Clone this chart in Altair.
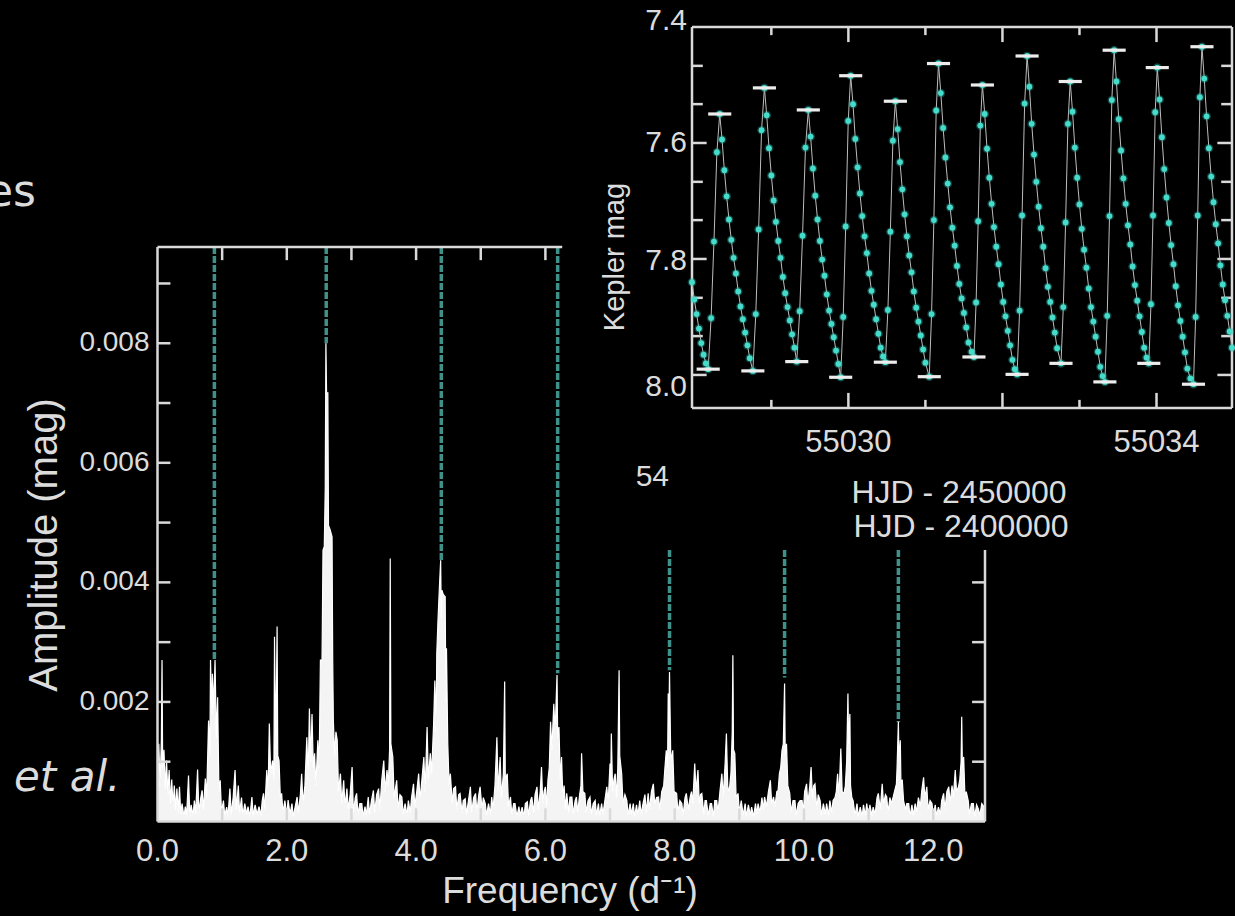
import altair as alt
import pandas as pd

# ---------------- periodogram data (frequency d^-1, amplitude in 0.001 mag) ----------------
SPEC_A = [(0.00,0.35),(0.02,1.30),(0.04,0.60),(0.06,1.36),(0.07,2.70),(0.08,0.90),(0.10,1.20),(0.12,0.55),(0.14,1.02),(0.16,0.45),(0.18,0.86),(0.20,0.30),(0.22,0.70),(0.24,0.25),(0.26,0.60),(0.28,0.20),(0.30,0.55),(0.32,0.15),(0.34,0.58),(0.36,0.12),(0.38,0.30),(0.41,0.08),(0.43,0.25),(0.45,0.10),(0.48,0.77),(0.50,0.08),(0.52,0.28),(0.55,0.10),(0.57,0.35),(0.59,0.12),(0.62,0.87),(0.64,0.15),(0.67,0.40),(0.69,0.52),(0.71,0.20),(0.74,0.72),(0.76,0.40),(0.79,1.69),(0.81,1.10),(0.82,2.70),(0.84,1.80),(0.85,2.47),(0.87,1.90),(0.89,2.70),(0.91,1.40),(0.93,2.08),(0.95,0.50),(0.97,0.69),(0.99,0.15),
          (1.02,0.35),(1.04,0.10),(1.07,0.24),(1.09,0.08),(1.12,0.55),(1.14,0.12),(1.17,0.40),(1.20,0.86),(1.22,0.20),(1.25,0.60),(1.27,0.15),(1.30,0.40),(1.32,0.10),(1.35,0.30),(1.38,0.12),(1.40,0.25),(1.43,0.08),(1.46,0.41),(1.48,0.10),(1.51,0.28),(1.54,0.12),(1.57,0.25),(1.60,0.10),(1.62,0.35),(1.64,0.47),(1.66,0.20),(1.69,0.86),(1.71,0.45),(1.73,1.64),(1.75,0.80),(1.78,1.02),(1.80,0.70),(1.81,3.09),(1.83,1.20),(1.85,3.26),(1.86,1.10),(1.88,1.02),(1.90,0.40),(1.92,0.47),(1.94,0.15),(1.97,0.35),(2.00,0.10),
          (2.02,0.36),(2.05,0.12),(2.08,0.30),(2.10,0.08),(2.13,0.25),(2.16,0.41),(2.18,0.15),(2.21,0.45),(2.23,0.80),(2.25,0.30),(2.28,0.60),(2.31,1.41),(2.33,0.70),(2.35,1.89),(2.37,1.00),(2.39,1.80),(2.41,0.90),(2.43,1.14),(2.45,0.60),(2.48,1.36),(2.50,0.90),(2.52,2.70),(2.545,2.70),(2.56,4.54),(2.58,4.60),(2.595,5.60),(2.605,8.00),(2.615,7.17),(2.635,7.17),(2.645,4.95),(2.67,4.88),(2.70,4.76),(2.71,2.70),(2.72,1.69),(2.74,1.10),(2.76,1.50),(2.78,1.36),(2.80,0.50),(2.83,0.80),(2.85,0.30),(2.88,0.69),(2.90,0.25),(2.93,0.55),(2.95,0.20),(2.98,0.45)]
SPEC_B = [(3.01,0.91),(3.03,0.15),(3.06,0.40),(3.08,0.47),(3.10,0.12),(3.13,0.30),(3.16,0.30),(3.18,0.08),(3.21,0.25),(3.23,0.10),(3.26,0.41),(3.28,0.12),(3.31,0.35),(3.34,0.52),(3.36,0.15),(3.39,0.45),(3.42,0.55),(3.44,0.20),(3.47,0.70),(3.50,1.02),(3.52,0.50),(3.55,0.86),(3.57,0.60),(3.59,1.20),(3.60,4.40),(3.61,1.30),(3.64,1.08),(3.66,0.40),(3.70,0.69),(3.72,0.20),(3.75,0.45),(3.78,0.41),(3.80,0.12),(3.83,0.30),(3.86,0.10),(3.88,0.35),(3.91,0.15),(3.93,0.40),(3.96,0.63),(3.98,0.25),(4.01,0.50),(4.04,0.80),
          (4.06,0.35),(4.09,0.70),(4.12,1.08),(4.14,0.50),(4.17,1.58),(4.19,0.70),(4.22,1.14),(4.24,0.80),(4.27,1.60),(4.29,2.36),(4.31,1.50),(4.32,2.81),(4.34,3.40),(4.36,3.90),(4.38,4.37),(4.39,3.40),(4.40,3.87),(4.42,3.80),(4.45,3.76),(4.46,2.00),(4.47,2.90),(4.49,1.30),(4.51,0.60),(4.53,0.80),(4.56,0.30),(4.58,0.55),(4.61,0.58),(4.63,0.20),(4.66,0.45),(4.68,0.47),(4.71,0.15),(4.73,0.35),(4.76,0.38),(4.78,0.12),(4.81,0.35),(4.84,0.58),(4.86,0.15),(4.89,0.40),(4.92,0.47),(4.94,0.15),(4.97,0.45),(4.99,0.58),
          (5.02,0.20),(5.04,0.40),(5.07,0.30),(5.09,0.10),(5.12,0.30),(5.15,0.12),(5.17,0.41),(5.19,0.20),(5.22,0.60),(5.25,1.41),(5.27,0.50),(5.30,1.08),(5.32,0.40),(5.35,0.80),(5.37,2.34),(5.38,0.70),(5.41,0.80),(5.43,0.25),(5.46,0.41),(5.48,0.12),(5.51,0.30),(5.53,0.30),(5.56,0.08),(5.59,0.25),(5.61,0.10),(5.64,0.24),(5.67,0.08),(5.69,0.30),(5.72,0.33),(5.74,0.10),(5.77,0.35),(5.79,0.41),(5.82,0.15),(5.84,0.45),(5.87,0.58),(5.89,0.20),(5.92,0.50),(5.94,0.91),(5.96,0.30),(5.98,0.50),(6.00,0.58),
          (6.02,0.25),(6.04,0.70),(6.06,0.90),(6.08,1.67),(6.10,1.20),(6.13,1.97),(6.15,1.50),(6.18,2.45),(6.19,1.40),(6.21,1.58),(6.23,0.70),(6.25,1.08),(6.27,0.40),(6.29,0.60),(6.31,0.20),(6.33,0.47),(6.36,0.15),(6.38,0.41)]
SPEC_C = [(6.41,0.41),(6.43,0.12),(6.46,0.35),(6.48,0.41),(6.50,0.15),(6.53,0.45),(6.55,0.60),(6.56,1.14),(6.58,0.50),(6.61,0.47),(6.63,0.15),(6.66,0.35),(6.69,0.41),(6.71,0.12),(6.74,0.30),(6.77,0.35),(6.79,0.10),(6.82,0.30),(6.84,0.10),(6.87,0.30),(6.89,0.12),(6.92,0.35),(6.95,0.58),(6.97,0.30),(7.00,0.97),
          (7.01,0.60),(7.02,1.47),(7.04,0.50),(7.06,0.70),(7.08,0.80),(7.10,0.40),(7.12,0.90),(7.14,2.53),(7.15,1.10),(7.18,0.80),(7.20,0.30),(7.23,0.45),(7.26,0.35),(7.28,0.10),(7.31,0.30),(7.33,0.12),(7.36,0.30),(7.38,0.08),(7.41,0.28),(7.43,0.10),(7.46,0.35),(7.48,0.12),(7.51,0.30),(7.54,0.45),(7.56,0.15),(7.59,0.47),(7.61,0.20),(7.64,0.50),(7.67,0.63),(7.69,0.30),(7.72,0.40),(7.75,0.41),(7.77,0.20),(7.80,0.50),(7.83,0.60),(7.85,0.91),(7.87,1.19),(7.89,0.90),(7.90,2.14),(7.91,1.60),(7.92,2.50),(7.94,1.00),(7.97,1.19),(7.99,0.50),
          (8.03,0.47),(8.05,0.15),(8.08,0.35),(8.11,0.30),(8.13,0.10),(8.16,0.40),(8.18,0.47),(8.21,0.20),(8.24,0.41),(8.26,0.50),(8.28,0.30),(8.31,0.97),(8.33,0.50),(8.36,0.86),(8.38,0.30),(8.40,0.45),(8.42,0.47),(8.45,0.12),(8.47,0.35),(8.49,0.35),(8.52,0.10),(8.55,0.30),(8.57,0.30),(8.60,0.08),(8.62,0.35),(8.65,0.35),(8.67,0.15),(8.70,0.50),(8.73,0.80),(8.75,0.40),(8.78,0.97),(8.80,1.47),(8.82,0.60),(8.84,0.47),(8.87,0.80),(8.89,1.50),(8.90,2.78),(8.91,1.20),(8.93,1.14),(8.95,0.40),(8.98,0.47),(9.00,0.15),
          (9.03,0.35),(9.06,0.10),(9.09,0.30),(9.11,0.08),(9.14,0.28),(9.17,0.10),(9.19,0.24),(9.22,0.08),(9.25,0.30),(9.27,0.12),(9.29,0.30),(9.32,0.15),(9.35,0.40),(9.37,0.20),(9.39,0.41),(9.42,0.25),(9.45,0.50),(9.48,0.69),(9.50,0.30),(9.53,0.41),(9.55,0.25),(9.58,0.50)]
SPEC_D = [(9.60,0.52),(9.62,0.80),(9.64,0.90),(9.66,1.19),(9.68,1.30),(9.70,2.31),(9.71,1.10),(9.73,1.30),(9.75,0.60),(9.78,0.47),(9.80,0.15),(9.83,0.35),(9.86,0.35),(9.88,0.10),(9.91,0.30),(9.94,0.35),(9.97,0.35),(9.99,0.15),
          (10.01,0.50),(10.04,0.63),(10.06,0.30),(10.09,0.60),(10.11,0.91),(10.13,0.40),(10.15,0.60),(10.17,0.63),(10.20,0.20),(10.22,0.45),(10.25,0.35),(10.27,0.10),(10.30,0.30),(10.33,0.12),(10.35,0.30),(10.38,0.10),(10.40,0.35),(10.43,0.15),(10.45,0.35),(10.48,0.40),(10.50,0.50),(10.52,0.80),(10.54,0.40),(10.57,1.22),(10.59,0.50),(10.62,0.47),(10.64,0.60),(10.66,1.00),(10.68,2.14),(10.69,1.30),(10.71,1.80),(10.72,0.60),(10.74,0.40),(10.76,0.35),(10.79,0.10),(10.82,0.30),(10.84,0.08),(10.87,0.24),(10.90,0.08),(10.92,0.28),(10.95,0.10),(10.97,0.30),(11.00,0.08),
          (11.02,0.28),(11.05,0.10),(11.07,0.24),(11.10,0.12),(11.13,0.40),(11.15,0.47),(11.18,0.20),(11.21,0.63),(11.23,0.30),(11.26,0.45),(11.28,0.41),(11.30,0.15),(11.33,0.40),(11.35,0.30),(11.38,0.41),(11.40,0.50),(11.43,0.63),(11.44,0.90),(11.46,1.67),(11.47,1.00),(11.49,1.36),(11.50,0.60),(11.52,0.70),(11.54,0.35),(11.57,0.20),(11.59,0.30),(11.62,0.30),(11.64,0.08),(11.67,0.28),(11.69,0.10),(11.72,0.30),(11.74,0.15),(11.77,0.40),(11.80,0.25),(11.82,0.50),(11.85,0.74),(11.87,0.40),(11.90,0.58),(11.92,0.20),(11.95,0.35),(11.98,0.30),(12.00,0.08),
          (12.03,0.28),(12.05,0.10),(12.08,0.24),(12.11,0.12),(12.13,0.35),(12.16,0.47),(12.18,0.20),(12.21,0.50),(12.24,0.58),(12.26,0.30),(12.29,0.60),(12.31,0.40),(12.34,0.86),(12.36,0.50),(12.39,0.58),(12.41,0.70),(12.43,1.00),(12.44,1.75),(12.45,0.90),(12.47,1.08),(12.49,0.40),(12.51,0.50),(12.54,0.35),(12.56,0.12),(12.59,0.30),(12.62,0.30),(12.64,0.08),(12.67,0.28),(12.70,0.20),(12.72,0.10),(12.75,0.30),(12.78,0.25),(12.80,0.10)]

# dashed markers: frequency, top of dash, amplitude of the peak where it stops
DASH_F = [0.88, 2.61, 4.39, 6.19, 7.92, 9.70, 11.46]
DASH_TOP = [9.61, 9.61, 9.61, 9.61, 4.54, 4.54, 4.54]
DASH_END = [2.70, 8.00, 4.35, 2.48, 2.53, 2.41, 1.66]

PG_XTICKS = [0, 2, 4, 6, 8, 10, 12]
PG_XLABELS = ["0.0", "2.0", "4.0", "6.0", "8.0", "10.0", "12.0"]
PG_YTICKS = [2, 4, 6, 8]
PG_YLABELS = ["0.002", "0.004", "0.006", "0.008"]
PG_LEFT_TICKS = [1, 2, 3, 4, 5, 6, 7, 8, 9]
PG_RIGHT_TICKS = [1, 2, 3, 4]
PG_TOP_TICKS = [1, 2, 3, 4, 5, 6]
PG_BOTTOM_TICKS = [1, 2, 3, 4, 5, 6, 7, 8, 9, 10, 11, 12]

# ---------------- light curve (time = HJD - 2455000, Kepler mag) ----------------
LC_T = [27.97,28.00,28.03,28.06,28.09,28.12,28.15,28.18,
        28.218,28.255,28.293,28.33,28.36,28.39,28.42,28.45,28.48,28.51,28.54,28.57,28.60,28.63,28.66,28.69,28.72,28.76,
        28.798,28.835,28.873,28.91,28.94,28.97,29.00,29.03,29.06,29.09,29.12,29.15,29.18,29.21,29.24,29.27,29.30,29.33,
        29.368,29.405,29.443,29.48,29.51,29.54,29.57,29.60,29.63,29.66,29.69,29.72,29.75,29.78,29.81,29.84,29.87,29.90,
        29.933,29.965,29.998,30.03,30.06,30.09,30.12,30.15,30.18,30.21,30.24,30.27,30.30,30.33,30.36,30.39,30.42,30.45,30.48,
        30.513,30.545,30.578,30.61,30.64,30.67,30.70,30.73,30.76,30.79,30.82,30.85,30.88,30.91,30.94,30.97,31.00,31.05,
        31.08,31.11,31.14,31.17,31.20,31.23,31.26,31.29,31.32,31.35,31.38,31.41,31.44,31.47,31.50,31.53,31.56,31.60,31.63,
        31.658,31.685,31.713,31.74,31.77,31.80,31.83,31.86,31.89,31.92,31.95,31.98,32.01,32.04,32.07,32.10,32.13,32.16,32.19,
        32.223,32.255,32.288,32.32,32.35,32.38,32.41,32.44,32.47,32.50,32.53,32.56,32.59,32.62,32.65,32.68,32.71,32.76,
        32.79,32.82,32.85,32.88,32.91,32.94,32.97,33.00,33.03,33.06,33.09,33.12,33.15,33.18,33.21,33.24,33.27,33.30,33.33,
        33.36,33.39,33.42,33.45,33.48,33.51,33.54,33.57,33.60,33.63,33.66,33.69,33.72,33.75,33.78,33.81,33.84,33.87,33.90,
        33.928,33.955,33.983,34.01,34.04,34.07,34.10,34.13,34.16,34.19,34.22,34.25,34.28,34.31,34.34,34.37,34.40,34.44,34.48,
        34.508,34.535,34.563,34.59,34.62,34.65,34.68,34.71,34.74,34.77,34.80,34.83,34.86,34.89,34.92,34.95,34.98]
LC_MAG = [7.840,7.870,7.895,7.920,7.945,7.965,7.980,7.990,
          7.902,7.770,7.616,7.550,7.594,7.647,7.692,7.732,7.767,7.798,7.825,7.856,7.882,7.904,7.927,7.949,7.971,7.993,
          7.895,7.749,7.578,7.505,7.552,7.609,7.656,7.699,7.736,7.769,7.798,7.831,7.859,7.883,7.906,7.930,7.953,7.977,
          7.890,7.760,7.608,7.543,7.589,7.644,7.691,7.732,7.769,7.801,7.829,7.861,7.889,7.912,7.935,7.958,7.981,8.004,
          7.900,7.744,7.562,7.484,7.533,7.593,7.642,7.687,7.726,7.761,7.790,7.825,7.855,7.879,7.904,7.929,7.953,7.968,7.978,
          7.888,7.753,7.596,7.528,7.576,7.633,7.680,7.723,7.761,7.794,7.823,7.856,7.884,7.908,7.932,7.956,7.979,8.003,
          7.895,7.733,7.544,7.463,7.514,7.574,7.625,7.670,7.711,7.746,7.777,7.812,7.843,7.868,7.893,7.918,7.944,7.960,7.969,
          7.875,7.735,7.570,7.500,7.550,7.610,7.660,7.705,7.745,7.779,7.809,7.844,7.874,7.899,7.924,7.949,7.974,7.990,7.999,
          7.889,7.725,7.532,7.450,7.503,7.567,7.620,7.667,7.710,7.747,7.779,7.816,7.848,7.874,7.901,7.927,7.954,7.980,
          7.883,7.737,7.567,7.494,7.546,7.608,7.660,7.706,7.748,7.784,7.815,7.851,7.883,7.908,7.934,7.960,7.986,8.002,8.012,
          7.898,7.726,7.526,7.440,7.494,7.559,7.613,7.661,7.705,7.742,7.775,7.813,7.845,7.872,7.899,7.926,7.953,7.970,7.980,
          7.878,7.725,7.547,7.470,7.525,7.590,7.645,7.694,7.738,7.776,7.809,7.847,7.880,7.907,7.934,7.961,7.989,8.006,8.016,
          7.900,7.725,7.521,7.434,7.489,7.554,7.609,7.658,7.702,7.740,7.773,7.811,7.844,7.871,7.898,7.925,7.953]
MAX_T = [28.33, 28.91, 29.48, 30.03, 30.61, 31.17, 31.74, 32.32, 32.88, 33.45, 34.01, 34.59]
MAX_MAG = [7.550, 7.505, 7.543, 7.484, 7.528, 7.463, 7.500, 7.450, 7.494, 7.440, 7.470, 7.434]
MIN_T = [28.18, 28.76, 29.33, 29.90, 30.48, 31.05, 31.63, 32.19, 32.76, 33.33, 33.90, 34.48]
MIN_MAG = [7.990, 7.993, 7.977, 8.004, 7.978, 8.003, 7.969, 7.999, 7.980, 8.012, 7.980, 8.016]

LC_MAJOR_X = [30, 32, 34]
LC_MINOR_X = [29, 31, 33]
LC_MAJOR_Y = [7.6, 7.8, 8.0]
LC_MINOR_Y = [7.467, 7.533, 7.667, 7.733, 7.867, 7.933]
LC_YLABELS = ["7.4", "7.6", "7.8", "8.0"]
LC_YLABEL_AT = [7.39, 7.6, 7.803, 8.02]
LC_XLABELS = ["55030", "55034"]
LC_XLABEL_AT = [30, 34]

# ---------------- layout constants ----------------
PG_F0, PG_F1 = 0.0, 12.8
PG_A0, PG_A1 = 0.0, 9.61
PG_TOP_END = 6.26
PG_RIGHT_END = 4.54
LC_T0, LC_T1 = 27.97, 34.98
LC_M0, LC_M1 = 7.4, 8.057

PG_X = alt.Scale(domain=[PG_F0, PG_F1], range=[157.5, 985], nice=False, zero=False)
PG_Y = alt.Scale(domain=[PG_A0, PG_A1], range=[821.5, 247], nice=False, zero=False)
LC_X = alt.Scale(domain=[LC_T0, LC_T1], range=[692, 1232], nice=False, zero=False)
LC_Y = alt.Scale(domain=[LC_M0, LC_M1], range=[27, 408], nice=False, zero=False)

FG = "#d9d9d9"
TXT = "#dcdcdc"
FONT = "Liberation Sans"

def px(field, sc):
    return alt.X(field, type="quantitative", scale=sc, axis=None)

def py(field, sc):
    return alt.Y(field, type="quantitative", scale=sc, axis=None)

# ---------------- periodogram ----------------
spec_df = pd.DataFrame(SPEC_A + SPEC_B + SPEC_C + SPEC_D, columns=["f", "a"])
dash_df = pd.DataFrame({"f": DASH_F, "top": DASH_TOP, "end": DASH_END})

tick_len_f = 0.20
tick_len_a = 0.22
segs = [(PG_F0, PG_F0, PG_A0, PG_A1), (PG_F0, PG_F1, PG_A0, PG_A0),
        (PG_F0, PG_TOP_END, PG_A1, PG_A1), (PG_F1, PG_F1, PG_A0, PG_RIGHT_END)]
segs += [(PG_F0, PG_F0 + tick_len_f, v, v) for v in PG_LEFT_TICKS]
segs += [(PG_F1 - tick_len_f, PG_F1, v, v) for v in PG_RIGHT_TICKS]
segs += [(v, v, PG_A1 - tick_len_a, PG_A1) for v in PG_TOP_TICKS]
segs += [(v, v, PG_A0, PG_A0 + tick_len_a) for v in PG_BOTTOM_TICKS]
pg_seg_df = pd.DataFrame(segs, columns=["x1", "x2", "y1", "y2"])

dash = alt.Chart(dash_df).mark_rule(color="#3f9088", strokeWidth=3.5, strokeDash=[7, 2]).encode(
    x=px("f", PG_X), y=py("top", PG_Y), y2="end")
area = alt.Chart(spec_df).mark_area(color="#f4f4f4", interpolate="linear", opacity=1).encode(
    x=px("f", PG_X), y=py("a", PG_Y))
line = alt.Chart(spec_df).mark_line(color="#ffffff", strokeWidth=1.2, interpolate="linear").encode(
    x=px("f", PG_X), y=py("a", PG_Y))
pg_frame = alt.Chart(pg_seg_df).mark_rule(color=FG, strokeWidth=2.5).encode(
    x=px("x1", PG_X), x2="x2", y=py("y1", PG_Y), y2="y2")
pg_ylab = alt.Chart(pd.DataFrame({"v": PG_YTICKS, "lab": PG_YLABELS, "f": [PG_F0] * 4})).mark_text(
    align="right", baseline="middle", dx=-8, font=FONT, fontSize=28, color=TXT).encode(
    x=px("f", PG_X), y=py("v", PG_Y), text="lab:N")
pg_xlab = alt.Chart(pd.DataFrame({"v": PG_XTICKS, "lab": PG_XLABELS, "a": [PG_A0] * 7})).mark_text(
    align="center", baseline="middle", dy=30, font=FONT, fontSize=31, color=TXT).encode(
    x=px("v", PG_X), y=py("a", PG_Y), text="lab:N")
pg = alt.layer(dash, area, line, pg_frame, pg_ylab, pg_xlab)

# ---------------- light curve inset ----------------
lc_df = pd.DataFrame({"t": LC_T, "m": LC_MAG})
caps_df = pd.DataFrame({"t": MAX_T + MIN_T, "m": MAX_MAG + MIN_MAG})
CAP_HALF = 0.15
maj_x, min_x = 0.19, 0.14
maj_y, min_y = 0.026, 0.014
lsegs = [(LC_T0, LC_T1, LC_M0, LC_M0), (LC_T0, LC_T1, LC_M1, LC_M1),
         (LC_T0, LC_T0, LC_M0, LC_M1), (LC_T1, LC_T1, LC_M0, LC_M1)]
for v in LC_MAJOR_Y:
    lsegs += [(LC_T0, LC_T0 + maj_x, v, v), (LC_T1 - maj_x, LC_T1, v, v)]
for v in LC_MINOR_Y:
    lsegs += [(LC_T0, LC_T0 + min_x, v, v), (LC_T1 - min_x, LC_T1, v, v)]
for v in LC_MAJOR_X:
    lsegs += [(v, v, LC_M0, LC_M0 + maj_y), (v, v, LC_M1 - maj_y, LC_M1)]
for v in LC_MINOR_X:
    lsegs += [(v, v, LC_M0, LC_M0 + min_y), (v, v, LC_M1 - min_y, LC_M1)]
lc_seg_df = pd.DataFrame(lsegs, columns=["x1", "x2", "y1", "y2"])

lc_frame = alt.Chart(lc_seg_df).mark_rule(color=FG, strokeWidth=2.5).encode(
    x=px("x1", LC_X), x2="x2", y=py("y1", LC_Y), y2="y2")
lc_line = alt.Chart(lc_df).mark_line(color="#bdbdbd", strokeWidth=1.0).encode(
    x=px("t", LC_X), y=py("m", LC_Y))
lc_glow = alt.Chart(lc_df).mark_circle(color="#2fb8aa", size=75, opacity=0.35).encode(
    x=px("t", LC_X), y=py("m", LC_Y))
lc_pts = alt.Chart(lc_df).mark_circle(color="#45dccb", size=34, opacity=1).encode(
    x=px("t", LC_X), y=py("m", LC_Y))
caps = alt.Chart(caps_df).transform_calculate(
    t1=f"datum.t - {CAP_HALF}", t2=f"datum.t + {CAP_HALF}").mark_rule(
    color="#ececec", strokeWidth=3.2).encode(x=px("t1", LC_X), x2="t2", y=py("m", LC_Y))
lc_ylab = alt.Chart(pd.DataFrame({"v": LC_YLABEL_AT, "lab": LC_YLABELS, "t": [LC_T0] * 4})).mark_text(
    align="right", baseline="middle", dx=-5, font=FONT, fontSize=30, color=TXT).encode(
    x=px("t", LC_X), y=py("v", LC_Y), text="lab:N")
lc_xlab = alt.Chart(pd.DataFrame({"v": LC_XLABEL_AT, "lab": LC_XLABELS, "m": [LC_M1] * 2})).mark_text(
    align="center", baseline="middle", dy=35, font=FONT, fontSize=31, color=TXT).encode(
    x=px("v", LC_X), y=py("m", LC_Y), text="lab:N")
lc = alt.layer(lc_frame, lc_line, lc_glow, lc_pts, caps, lc_ylab, lc_xlab)

# ---------------- free text ----------------
def txt(s, x, y, size, angle=0, font=FONT, style="normal", align="center"):
    return alt.Chart(pd.DataFrame({"s": [s]})).mark_text(
        align=align, baseline="middle", font=font, fontSize=size, fontStyle=style,
        angle=angle, color=TXT).encode(x=alt.value(x), y=alt.value(y), text="s:N")

texts = [
    txt("Amplitude (mag)", 45, 545, 40, angle=270),
    txt("Frequency (d\u207b\u00b9)", 570, 892, 37),
    txt("Kepler mag", 615, 257, 29, angle=270),
    txt("HJD - 2450000", 959, 493, 32),
    txt("HJD - 2400000", 961, 527, 32),
    txt("54", 669, 477, 30, align="right"),
    txt("es", -14, 193, 44, font="DejaVu Sans", align="left"),
    txt("et al.", 14, 778, 42, font="DejaVu Sans", style="italic", align="left"),
]

chart = alt.layer(pg, lc, *texts).resolve_scale(x="independent", y="independent").properties(
    width=1235, height=916, padding=0,
    autosize=alt.AutoSizeParams(type="none"), background="#000000"
).configure_view(strokeWidth=0)

chart.save("out.html", embed_options={"renderer": "svg", "actions": False})
